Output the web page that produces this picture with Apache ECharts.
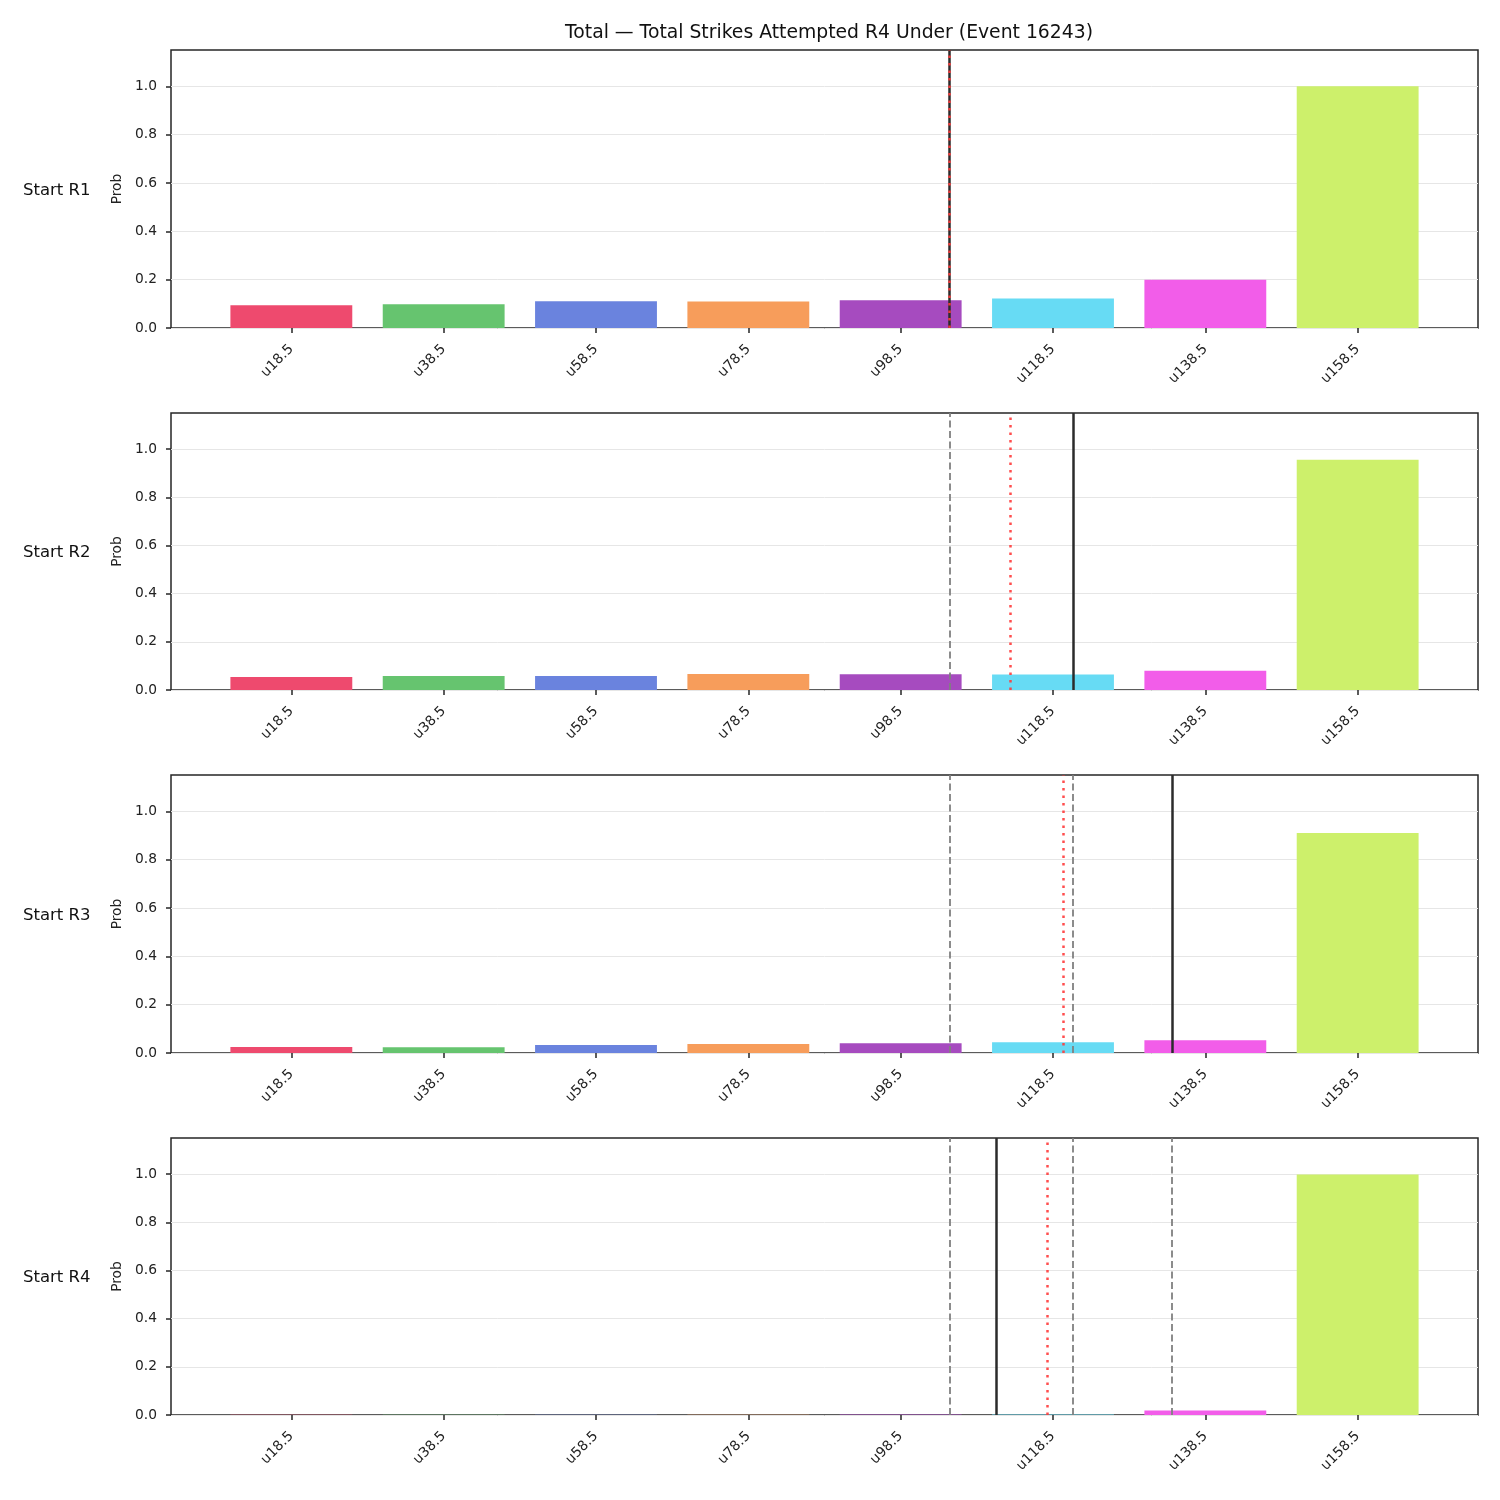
<!DOCTYPE html>
<html>
<head>
<meta charset="utf-8">
<script src="https://cdn.jsdelivr.net/npm/echarts@6/dist/echarts.min.js"></script>
<style>
  html, body { margin: 0; padding: 0; background: #fff; }
  #main { width: 1500px; height: 1500px; }
</style>
</head>
<body>
<div id="main"></div>
<script>
// bar categories and colours
const cats = ['u18.5', 'u38.5', 'u58.5', 'u78.5', 'u98.5', 'u118.5', 'u138.5', 'u158.5'];
const barColors = ['#ee4a6e', '#66c46f', '#6a83de', '#f79d5b', '#a64bbf', '#67dbf4', '#f25de9', '#cdf06b'];
const rounds = ['Start R1', 'Start R2', 'Start R3', 'Start R4'];

// probabilities per start round
const probR1 = [0.094, 0.098, 0.111, 0.110, 0.115, 0.122, 0.200, 1.000];
const probR2 = [0.054, 0.058, 0.058, 0.066, 0.065, 0.064, 0.080, 0.956];
const probR3 = [0.025, 0.024, 0.033, 0.037, 0.040, 0.044, 0.053, 0.910];
const probR4 = [0.001, 0.001, 0.001, 0.001, 0.002, 0.002, 0.019, 0.998];
const probs = [probR1, probR2, probR3, probR4];

// vertical markers (in category-index units)
const solidLine = [4.322, 5.127, 5.775, 4.627];
const dottedLine = [4.322, 4.724, 5.074, 4.963];
const dashedLines = [[], [4.322], [4.322, 5.127], [4.322, 5.127, 5.775]];

const yTicks = [0, 0.2, 0.4, 0.6, 0.8, 1.0];
const tickIdx = [0, 1, 2, 3, 4, 5, 6, 7];

var chart = echarts.init(document.getElementById('main'));

const gridTops = [50, 413, 775, 1138];
const gridH = [278, 277, 278, 277];
const gLeft = 171, gRight = 22;
const xMin = -0.79, xMax = 7.79;
const barW = (1500 - gLeft - gRight) / (xMax - xMin) * 0.8;

var grids = [], xAxes = [], yAxes = [], series = [], titles = [];

titles.push({
  text: 'Total — Total Strikes Attempted R4 Under (Event 16243)',
  left: 824, top: 19, textAlign: 'center',
  textStyle: { fontFamily: 'DejaVu Sans', fontSize: 18.8, fontWeight: 'normal', color: '#111' }
});

for (let i = 0; i < 4; i++) {
  grids.push({
    left: gLeft, right: gRight, top: gridTops[i], height: gridH[i],
    show: true, borderColor: '#262626', borderWidth: 1.5, backgroundColor: 'transparent'
  });
  titles.push({
    text: rounds[i], left: 18, top: gridTops[i] + gridH[i] / 2 - 12,
    textStyle: { fontFamily: 'DejaVu Sans', fontSize: 16.5, fontWeight: 'normal', color: '#111' }
  });
  xAxes.push({
    type: 'value', gridIndex: i, min: xMin, max: xMax,
    axisLine: { show: false, onZero: false },
    splitLine: { show: false },
    axisTick: { customValues: tickIdx, length: 5, lineStyle: { color: '#262626', width: 1.5 } },
    axisLabel: {
      customValues: tickIdx, rotate: 45, margin: 19,
      fontFamily: 'DejaVu Sans', fontSize: 13.8, color: '#222',
      formatter: v => cats[Math.round(v)]
    }
  });
  yAxes.push({
    type: 'value', gridIndex: i, min: 0, max: 1.15,
    name: 'Prob', nameLocation: 'middle', nameGap: 47,
    nameTextStyle: { fontFamily: 'DejaVu Sans', fontSize: 13.8, color: '#222' },
    axisLine: { show: false, onZero: false },
    splitLine: { lineStyle: { color: '#e6e6e6', width: 1 } },
    axisTick: { customValues: yTicks, length: 5, lineStyle: { color: '#262626', width: 1.5 } },
    axisLabel: {
      customValues: yTicks, margin: 14,
      fontFamily: 'DejaVu Sans', fontSize: 13.8, color: '#222',
      formatter: v => v.toFixed(1)
    }
  });

  var lines = [];
  dashedLines[i].forEach(x => lines.push({
    xAxis: x, lineStyle: { color: '#808080', type: [7, 3.5], width: 1.8 }
  }));
  lines.push({ xAxis: solidLine[i], lineStyle: { color: '#2b2b2b', type: 'solid', width: 2.5 } });
  lines.push({ xAxis: dottedLine[i], lineStyle: { color: '#ff3b3b', type: [2.5, 5], width: 2.5, opacity: 0.9 } });

  series.push({
    type: 'bar', xAxisIndex: i, yAxisIndex: i,
    barWidth: barW,
    data: probs[i].map((v, j) => [j, v]),
    itemStyle: { color: p => barColors[p.dataIndex] },
    markLine: {
      silent: true, symbol: ['none', 'none'],
      label: { show: false },
      data: lines
    }
  });
}

chart.setOption({
  animation: false,
  backgroundColor: '#fff',
  title: titles,
  grid: grids,
  xAxis: xAxes,
  yAxis: yAxes,
  series: series
});
</script>
</body>
</html>
